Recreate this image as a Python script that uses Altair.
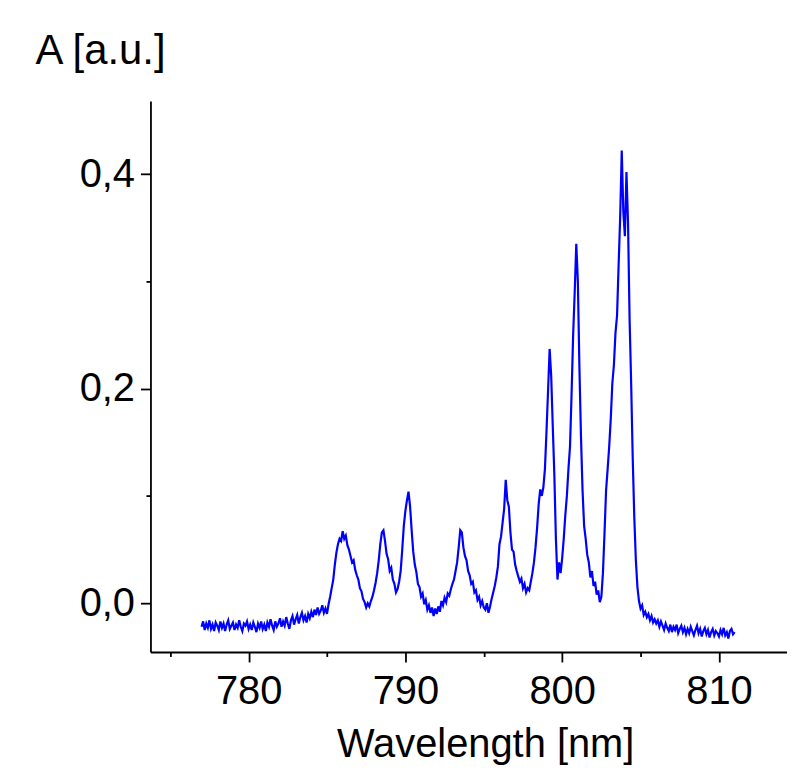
import altair as alt
import pandas as pd

# Absorbance spectrum, 0.1 nm steps starting at 777.0 nm
start_nm = 777.0
step_nm = 0.1
a_777 = [-0.022, -0.017, -0.025, -0.019, -0.023, -0.016, -0.024, -0.020, -0.026, -0.018]
a_778 = [-0.021, -0.025, -0.017, -0.023, -0.019, -0.026, -0.020, -0.016, -0.024, -0.021]
a_779 = [-0.018, -0.025, -0.020, -0.023, -0.016, -0.022, -0.026, -0.019, -0.021, -0.017]
a_780 = [-0.024, -0.020, -0.025, -0.018, -0.022, -0.027, -0.019, -0.023, -0.017, -0.024]
a_781 = [-0.020, -0.026, -0.018, -0.022, -0.015, -0.021, -0.025, -0.017, -0.022, -0.019]
a_782 = [-0.014, -0.022, -0.017, -0.021, -0.013, -0.019, -0.024, -0.016, -0.012, -0.020]
a_783 = [-0.015, -0.011, -0.019, -0.013, -0.009, -0.016, -0.012, -0.018, -0.010, -0.014]
a_784 = [-0.008, -0.013, -0.006, -0.011, -0.004, -0.010, -0.007, -0.002, -0.009, -0.005]
a_785 = [-0.010, -0.001, 0.006, 0.014, 0.022, 0.036, 0.047, 0.055, 0.060, 0.058]
a_786 = [0.067, 0.060, 0.063, 0.054, 0.050, 0.044, 0.038, 0.040, 0.031, 0.026]
a_787 = [0.022, 0.014, 0.011, 0.004, 0.001, -0.004, 0.000, -0.003, 0.002, 0.006]
a_788 = [0.012, 0.019, 0.028, 0.040, 0.055, 0.066, 0.068, 0.058, 0.046, 0.041]
a_789 = [0.030, 0.033, 0.022, 0.018, 0.010, 0.013, 0.020, 0.030, 0.050, 0.072]
a_790 = [0.086, 0.096, 0.104, 0.090, 0.068, 0.048, 0.036, 0.029, 0.018, 0.015]
a_791 = [0.006, 0.009, -0.001, 0.003, -0.006, -0.002, -0.009, -0.004, -0.012, -0.005]
a_792 = [-0.010, -0.003, -0.008, 0.002, -0.002, 0.005, 0.001, 0.009, 0.007, 0.013]
a_793 = [0.018, 0.022, 0.030, 0.038, 0.052, 0.068, 0.066, 0.052, 0.044, 0.040]
a_794 = [0.030, 0.026, 0.018, 0.020, 0.010, 0.012, 0.003, 0.006, -0.002, 0.002]
a_795 = [-0.004, -0.006, 0.000, -0.009, -0.003, 0.004, 0.010, 0.016, 0.024, 0.034]
a_796 = [0.055, 0.062, 0.075, 0.088, 0.115, 0.096, 0.090, 0.066, 0.050, 0.048]
a_797 = [0.036, 0.030, 0.025, 0.020, 0.023, 0.014, 0.018, 0.010, 0.014, 0.012]
a_798 = [0.020, 0.028, 0.038, 0.052, 0.070, 0.092, 0.106, 0.100, 0.108, 0.125]
a_799 = [0.160, 0.198, 0.237, 0.212, 0.165, 0.120, 0.060, 0.022, 0.038, 0.028]
a_800 = [0.042, 0.060, 0.082, 0.100, 0.125, 0.146, 0.195, 0.250, 0.290, 0.335]
a_801 = [0.300, 0.220, 0.155, 0.105, 0.072, 0.060, 0.045, 0.038, 0.024, 0.030]
a_802 = [0.016, 0.020, 0.008, 0.012, 0.001, 0.006, 0.028, 0.065, 0.105, 0.125]
a_803 = [0.146, 0.172, 0.205, 0.222, 0.252, 0.268, 0.315, 0.360, 0.422, 0.365]
a_804 = [0.342, 0.402, 0.355, 0.265, 0.205, 0.135, 0.080, 0.040, 0.015, 0.002]
a_805 = [-0.005, -0.002, -0.011, -0.008, -0.013, -0.010, -0.016, -0.012, -0.018, -0.015]
a_806 = [-0.019, -0.016, -0.022, -0.017, -0.021, -0.025, -0.019, -0.023, -0.026, -0.020]
a_807 = [-0.027, -0.022, -0.025, -0.020, -0.028, -0.024, -0.021, -0.027, -0.023, -0.029]
a_808 = [-0.024, -0.028, -0.022, -0.026, -0.030, -0.025, -0.021, -0.028, -0.024, -0.031]
a_809 = [-0.026, -0.023, -0.029, -0.025, -0.032, -0.027, -0.024, -0.030, -0.026, -0.028]
a_810 = [-0.031, -0.025, -0.029, -0.023, -0.030, -0.027, -0.033, -0.026, -0.024, -0.029]
a_811 = [-0.027]

x_major_ticks = [780, 790, 800, 810]
x_minor_ticks = [775, 785, 795, 805]
y_major_ticks = [0.0, 0.2, 0.4]
y_minor_ticks = [0.1, 0.3]

absorbance = (a_777 + a_778 + a_779 + a_780 + a_781 + a_782 + a_783 + a_784 + a_785
              + a_786 + a_787 + a_788 + a_789 + a_790 + a_791 + a_792 + a_793 + a_794
              + a_795 + a_796 + a_797 + a_798 + a_799 + a_800 + a_801 + a_802 + a_803
              + a_804 + a_805 + a_806 + a_807 + a_808 + a_809 + a_810 + a_811)
wavelength = [round(start_nm + step_nm * i, 1) for i in range(len(absorbance))]

df = pd.DataFrame({"wavelength": wavelength, "absorbance": absorbance})

FONT = "Liberation Sans"
xscale = alt.Scale(domain=[773.74, 814.34], nice=False, zero=False)
yscale = alt.Scale(domain=[-0.0455, 0.468], nice=False, zero=False)

common = dict(grid=False, domainColor="black", tickColor="black", labelColor="black",
              titleColor="black", domainWidth=1.8, tickWidth=1.8)

main = alt.Chart(df).mark_line(color="#0000ff", strokeWidth=2.2, strokeJoin="miter").encode(
    x=alt.X("wavelength:Q", scale=xscale,
            axis=alt.Axis(values=x_major_ticks, tickSize=10, labelFontSize=40, labelFont=FONT,
                          labelPadding=42, labelBaseline="alphabetic", labelFlush=False,
                          labelOverlap=False, format="d",
                          title="Wavelength [nm]", titleFont=FONT, titleFontSize=40,
                          titleFontWeight="normal", titleX=336, titleY=105,
                          titleAlign="center", titleBaseline="alphabetic", orient="bottom",
                          **common)),
    y=alt.Y("absorbance:Q", scale=yscale,
            axis=alt.Axis(values=y_major_ticks, tickSize=10, labelFontSize=40, labelFont=FONT,
                          labelPadding=6, labelBaseline="middle", labelFlush=False,
                          labelOverlap=False,
                          labelExpr="replace(format(datum.value, '.1f'), '.', ',')",
                          title="A [a.u.]", titleFont=FONT, titleFontSize=42,
                          titleFontWeight="normal", titleAngle=0, titleX=-116, titleY=-38,
                          titleAlign="left", titleBaseline="alphabetic", orient="left",
                          **common)),
)

minor = alt.Chart(df).mark_line(strokeOpacity=0).encode(
    x=alt.X("wavelength:Q", scale=xscale,
            axis=alt.Axis(values=x_minor_ticks, tickSize=4.5, labels=False, domain=False,
                          title=None, orient="bottom", **common)),
    y=alt.Y("absorbance:Q", scale=yscale,
            axis=alt.Axis(values=y_minor_ticks, tickSize=4.5, labels=False, domain=False,
                          title=None, orient="left", **common)),
)

chart = alt.layer(minor, main).resolve_axis(x="independent", y="independent").properties(
    width=639, height=553,
    autosize=alt.AutoSizeParams(type="none"),
    padding={"left": 143, "top": 92, "right": 0, "bottom": 117},
    background="white",
).configure_view(stroke=None)

chart.save("out.html", embed_options={"renderer": "svg", "actions": False})
